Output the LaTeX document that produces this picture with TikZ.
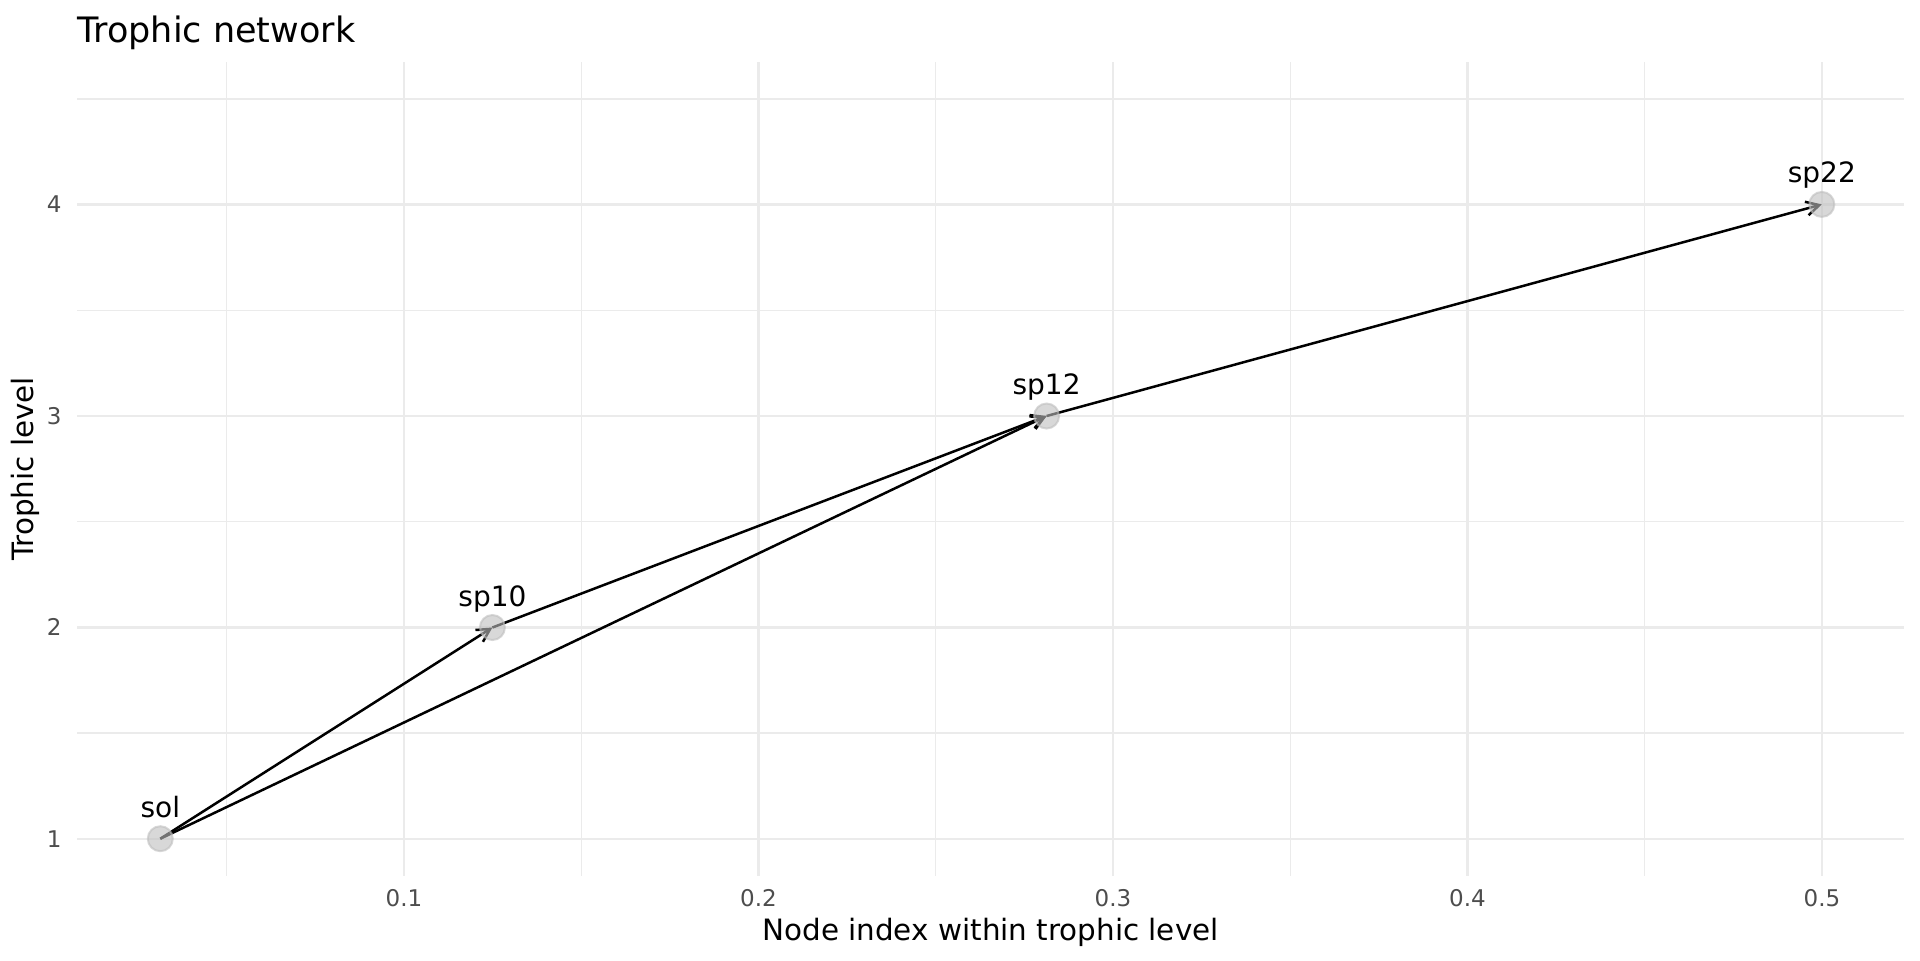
\documentclass[tikz,border=0pt]{standalone}
\usepackage{fontspec}
\setmainfont{DejaVu Sans}
\usetikzlibrary{arrows.meta}
\definecolor{gridc}{HTML}{EBEBEB}
\definecolor{tickc}{HTML}{4D4D4D}
\definecolor{ptc}{HTML}{BEBEBE}
\tikzset{
  majorgrid/.style={draw=gridc, line width=1.2pt},
  minorgrid/.style={draw=gridc, line width=0.6pt},
  ticklab/.style={text=tickc, font=\fontsize{11.5}{13}\selectfont, inner sep=0pt},
  axtitle/.style={text=black, font=\fontsize{14.7}{17}\selectfont, inner sep=0pt},
  nodelab/.style={text=black, font=\fontsize{14}{16}\selectfont, inner sep=0pt, anchor=base},
  link/.style={draw=black, line width=1.25pt, -{Straight Barb[length=6.5pt,width=7pt,line width=1.25pt]}},
  pt/.style={fill=ptc, draw=ptc, fill opacity=0.6, draw opacity=0.6, line width=1pt}
}
\begin{document}
\begin{tikzpicture}[x=0.5pt,y=-0.5pt]
\useasboundingbox (0,0) rectangle (1920,960);
% minor grid
\foreach \y in {733,521.7,310.3,99} \draw[minorgrid] (77,\y) -- (1904,\y);
\foreach \x in {226.75,581.25,935.75,1290.25,1644.75} \draw[minorgrid] (\x,62) -- (\x,876);
% major grid
\foreach \y in {838.7,627.3,416,204.5} \draw[majorgrid] (77,\y) -- (1904,\y);
\foreach \x in {404,758.5,1113,1467.5,1822} \draw[majorgrid] (\x,62) -- (\x,876);
% tick labels
\node[ticklab, anchor=base] (xt1) at (404,906) {0.1};
\node[ticklab, anchor=base] (xt2) at (758.5,906) {0.2};
\node[ticklab, anchor=base] (xt3) at (1113,906) {0.3};
\node[ticklab, anchor=base] (xt4) at (1467.5,906) {0.4};
\node[ticklab, anchor=base] (xt5) at (1822,906) {0.5};
\node[ticklab, anchor=east] (yt1) at (62,838.7) {1};
\node[ticklab, anchor=east] (yt2) at (62,627.3) {2};
\node[ticklab, anchor=east] (yt3) at (62,416) {3};
\node[ticklab, anchor=east] (yt4) at (62,204.5) {4};
% titles
\node[text=black, font=\fontsize{17.5}{20}\selectfont, inner sep=0pt, anchor=base west] (title) at (77,42.3) {Trophic network};
\node[axtitle, anchor=base] (xtitle) at (990.5,940) {Node index within trophic level};
\node[axtitle, anchor=base, rotate=90] (ytitle) at (33.3,469) {Trophic level};
% node centres
\coordinate (sol) at (160.3,838.7);
\coordinate (sp10) at (492.4,627.5);
\coordinate (sp12) at (1046.6,416);
\coordinate (sp22) at (1821.8,204.4);
% links
\draw[link] (sol) -- (sp10);
\draw[link] (sol) -- (sp12);
\draw[link] (sp10) -- (sp12);
\draw[link] (sp12) -- (sp22);
% points
\foreach \n in {sol,sp10,sp12,sp22} \path[pt] (\n) circle[radius=12.5];
% labels
\node[nodelab] (lsol) at ([yshift=10.75pt]sol) {sol};
\node[nodelab] (lsp10) at ([yshift=10.75pt]sp10) {sp10};
\node[nodelab] (lsp12) at ([yshift=10.75pt]sp12) {sp12};
\node[nodelab] (lsp22) at ([yshift=10.75pt]sp22) {sp22};
\end{tikzpicture}
\end{document}
